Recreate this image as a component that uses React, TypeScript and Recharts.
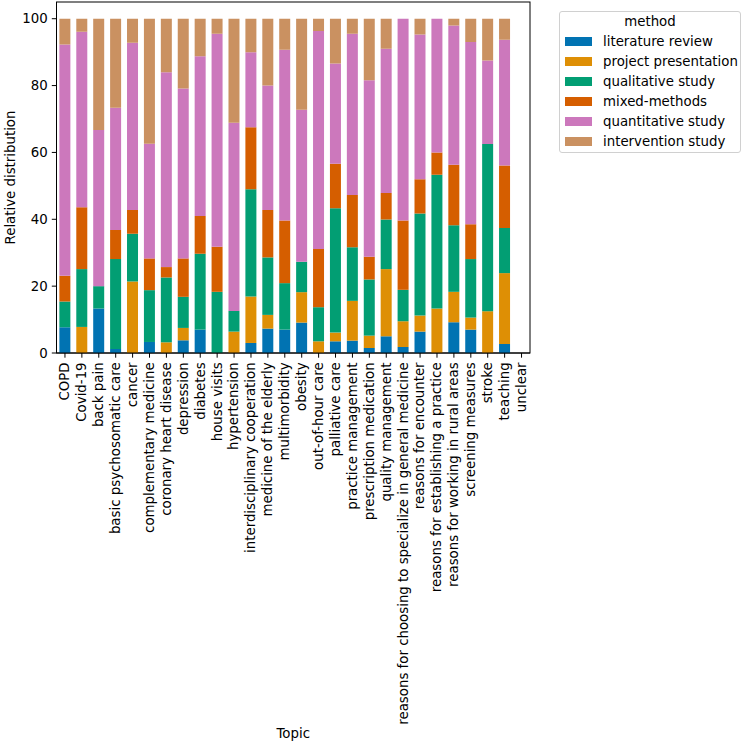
import React from "react";
import { BarChart, Bar, XAxis, YAxis, Legend, Label, ReferenceArea } from "recharts";

const topics = [
  "COPD", "Covid-19", "back pain", "basic psychosomatic care", "cancer",
  "complementary medicine", "coronary heart disease", "depression", "diabetes",
  "house visits", "hypertension", "interdisciplinary cooperation",
  "medicine of the elderly", "multimorbidity", "obesity", "out-of-hour care",
  "palliative care", "practice management", "prescription medication",
  "quality management", "reasons for choosing to specialize in general medicine",
  "reasons for encounter", "reasons for establishing a practice",
  "reasons for working in rural areas", "screening measures", "stroke",
  "teaching", "unclear",
];

const literatureReview = [7.7, 0, 13.3, 1.2, 0, 3.3, 0, 3.8, 7.0, 0, 0, 3.0, 7.3, 7.0, 9.1, 0, 3.5, 3.7, 1.5, 5.0, 1.8, 6.4, 0, 9.2, 7.0, 0, 2.7, 0];
const projectPresentation = [0, 7.8, 0, 0, 21.4, 0, 3.2, 3.7, 0, 0, 6.4, 13.9, 4.1, 0, 9.1, 3.5, 2.6, 11.9, 3.7, 20.1, 7.7, 4.8, 13.3, 9.1, 3.6, 12.5, 21.2, 0];
const qualitativeStudy = [7.7, 17.3, 6.7, 26.9, 14.3, 15.5, 19.4, 9.3, 22.7, 18.3, 6.2, 32.1, 17.2, 13.9, 9.1, 10.2, 37.2, 16.0, 16.8, 14.8, 9.4, 30.5, 40.0, 19.9, 17.5, 50.0, 13.5, 0];
const mixedMethods = [7.7, 18.5, 0, 8.7, 7.1, 9.5, 3.1, 11.5, 11.3, 13.5, 0, 18.5, 14.2, 18.7, 0, 17.4, 13.3, 15.7, 6.8, 8.0, 20.7, 10.3, 6.7, 18.1, 10.4, 0, 18.7, 0];
const quantitativeStudy = [69.2, 52.5, 46.7, 36.6, 50.0, 34.3, 58.3, 50.8, 47.8, 63.7, 56.3, 22.5, 37.2, 51.1, 45.5, 65.2, 30.0, 48.2, 52.8, 43.1, 60.4, 43.3, 40.0, 41.7, 54.5, 25.0, 37.6, 0];
const interventionStudy = [7.7, 3.9, 33.3, 26.6, 7.2, 37.4, 16.0, 20.9, 11.2, 4.5, 31.1, 10.0, 20.0, 9.3, 27.2, 3.7, 13.4, 4.5, 18.4, 9.0, 0, 4.7, 0, 2.0, 7.0, 12.5, 6.3, 0];

const yTicks = [0, 20, 40, 60, 80, 100];
const yMax = 105;

const series = [
  { key: "lit", name: "literature review", color: "#0173B2", values: literatureReview },
  { key: "proj", name: "project presentation", color: "#DE8F05", values: projectPresentation },
  { key: "qual", name: "qualitative study", color: "#029E73", values: qualitativeStudy },
  { key: "mixed", name: "mixed-methods", color: "#D55E00", values: mixedMethods },
  { key: "quant", name: "quantitative study", color: "#CC78BC", values: quantitativeStudy },
  { key: "interv", name: "intervention study", color: "#CA9161", values: interventionStudy },
];

const data = topics.map((t, i) => {
  const row: Record<string, any> = { topic: t };
  series.forEach((s) => {
    row[s.key] = s.values[i];
  });
  return row;
});

const FONT = "DejaVu Sans";
const FS = 13.33;

const XTick = (props: any) => {
  const { x, y, payload } = props;
  return (
    <text
      x={x}
      y={y}
      transform={`rotate(-90, ${x}, ${y})`}
      textAnchor="end"
      dy="0.33em"
      fontFamily={FONT}
      fontSize={FS}
      fill="#000"
    >
      {payload.value}
    </text>
  );
};

const LegendBox = () => (
  <div
    style={{
      width: 182,
      height: 142,
      border: "1px solid #d0d0d0",
      borderRadius: 3,
      boxSizing: "border-box",
      position: "relative",
      background: "#fff",
      fontFamily: FONT,
      fontSize: FS,
      color: "#000",
    }}
  >
    <div
      style={{
        position: "absolute",
        left: 0,
        top: 0,
        width: "100%",
        height: 20,
        lineHeight: "20px",
        textAlign: "center",
      }}
    >
      method
    </div>
    {series.map((s, i) => (
      <div
        key={s.key}
        style={{ position: "absolute", left: 0, top: 20 + i * 20, height: 20, width: "100%" }}
      >
        <div
          style={{
            position: "absolute",
            left: 5,
            top: 5,
            width: 27,
            height: 9,
            background: s.color,
          }}
        />
        <div
          style={{
            position: "absolute",
            left: 43,
            top: 0,
            height: 20,
            lineHeight: "20px",
            whiteSpace: "nowrap",
          }}
        >
          {s.name}
        </div>
      </div>
    ))}
  </div>
);

const FrameShape = (props: any) => {
  const { x, y, width, height } = props;
  return <rect x={x} y={y} width={width} height={height} fill="none" stroke="#000" strokeWidth={1} />;
};

export default function App() {
  return (
    <div style={{ position: "absolute", left: 0, top: 0, width: 744, height: 743, background: "#fff" }}>
      <BarChart
        width={744}
        height={743}
        data={data}
        margin={{ top: 2, right: 214, bottom: 0, left: 0 }}
        barCategoryGap="17%"
      >
        <XAxis
          dataKey="topic"
          interval={0}
          height={390}
          tick={<XTick />}
          tickSize={4.7}
          tickMargin={4.7}
          axisLine={{ stroke: "#000", strokeWidth: 1 }}
          tickLine={{ stroke: "#000", strokeWidth: 1 }}
        >
          <Label
            content={(p: any) => {
              const vb = p.viewBox;
              return (
                <text
                  x={vb.x + vb.width / 2}
                  y={733}
                  textAnchor="middle"
                  dominantBaseline="central"
                  fontFamily={FONT}
                  fontSize={FS}
                  fill="#000"
                >
                  Topic
                </text>
              );
            }}
          />
        </XAxis>
        <YAxis
          width={56.5}
          domain={[0, yMax]}
          ticks={yTicks}
          tickSize={4.7}
          tickMargin={4}
          tick={{ fontFamily: FONT, fontSize: FS, fill: "#000" }}
          axisLine={{ stroke: "#000", strokeWidth: 1 }}
          tickLine={{ stroke: "#000", strokeWidth: 1 }}
          allowDataOverflow
        >
          <Label
            content={(p: any) => {
              const vb = p.viewBox;
              const cx = 10;
              const cy = vb.y + vb.height / 2;
              return (
                <text
                  x={cx}
                  y={cy}
                  transform={`rotate(-90, ${cx}, ${cy})`}
                  textAnchor="middle"
                  dominantBaseline="central"
                  fontFamily={FONT}
                  fontSize={FS}
                  fill="#000"
                >
                  Relative distribution
                </text>
              );
            }}
          />
        </YAxis>
        <Legend
          layout="vertical"
          align="center"
          verticalAlign="middle"
          wrapperStyle={{ left: 559, top: 11, width: 183, height: 143 }}
          content={() => <LegendBox />}
        />
        {series.map((s) => (
          <Bar
            key={s.key}
            dataKey={s.key}
            name={s.name}
            stackId="a"
            fill={s.color}
            isAnimationActive={false}
          />
        ))}
        <ReferenceArea
          x1={topics[0]}
          x2={topics[topics.length - 1]}
          y1={0}
          y2={yMax}
          ifOverflow="visible"
          shape={<FrameShape />}
        />
      </BarChart>
    </div>
  );
}
